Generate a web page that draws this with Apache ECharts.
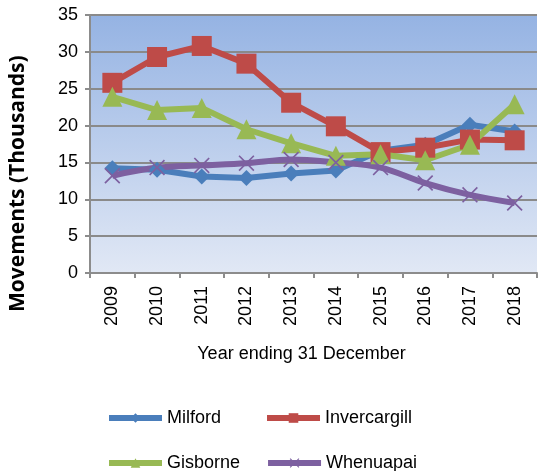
<!DOCTYPE html>
<html><head><meta charset="utf-8">
<script src="https://cdn.jsdelivr.net/npm/echarts@6/dist/echarts.min.js"></script>
<style>html,body{margin:0;padding:0;background:#fff}#c{width:541px;height:471px}</style>
</head><body><div id="c"></div>
<script>
const years = ['2009','2010','2011','2012','2013','2014','2015','2016','2017','2018'];
const yTicks = [0,5,10,15,20,25,30,35];
const milford = [14.2, 14.0, 13.1, 12.9, 13.5, 13.9, 16.6, 17.4, 20.1, 19.2];
const invercargill = [25.8, 29.3, 30.8, 28.4, 23.1, 19.9, 16.4, 17.0, 18.1, 18.0];
const gisborne = [23.9, 22.1, 22.4, 19.5, 17.6, 15.9, 16.1, 15.3, 17.4, 22.9];
const whenuapai = [13.2, 14.3, 14.6, 14.9, 15.4, 15.0, 14.3, 12.2, 10.6, 9.5];

const xPath = 'path://M0,1.5 L1.5,0 L10,8.5 L18.5,0 L20,1.5 L11.5,10 L20,18.5 L18.5,20 L10,11.5 L1.5,20 L0,18.5 L8.5,10 Z';
const font = 'Liberation Sans, Arial, sans-serif';
const chart = echarts.init(document.getElementById('c'));
function ser(name, data, color, symbol, size, smooth){
  return {name, type:'line', data, smooth: smooth||false, symbol, symbolSize:size,
    lineStyle:{color, width:6}, itemStyle:{color}, emphasis:{disabled:true}, z:2};
}
const legendCommon = {left:106, padding:0, itemWidth:53, itemHeight:12,
  lineStyle:{width:6}, textStyle:{fontSize:18, fontFamily:font, color:'#000'}};
chart.setOption({
  animation:false,
  grid:{left:90, right:4, top:15, bottom:198},
  xAxis:{type:'category', data:years, boundaryGap:true,
    axisLine:{lineStyle:{color:'#8c8c8c', width:2}},
    axisTick:{show:true, length:5, lineStyle:{color:'#8c8c8c', width:2}},
    axisLabel:{rotate:90, color:'#000', fontSize:18, fontFamily:font, margin:13},
    name:'Year ending 31 December', nameLocation:'middle', nameGap:72,
    nameTextStyle:{color:'#000', fontSize:18, fontFamily:font, padding:[0,24,0,0]}},
  yAxis:{type:'value', min:0, max:35, interval:5,
    axisLine:{show:true, lineStyle:{color:'#8c8c8c', width:2}},
    axisTick:{show:true, length:5, lineStyle:{color:'#8c8c8c', width:2}},
    splitLine:{lineStyle:{color:'#8a8a8a', width:2}},
    axisLabel:{color:'#000', fontSize:18, fontFamily:font, margin:12,
      formatter: v => yTicks.includes(v) ? String(v) : ''}},
  legend:[
    Object.assign({data:['Milford','Invercargill'], top:409, itemGap:43}, legendCommon),
    Object.assign({data:['Gisborne','Whenuapai'], top:454, itemGap:25}, legendCommon)
  ],
  series:[
    ser('Milford', milford, '#4a7ebb', 'diamond', 16),
    ser('Invercargill', invercargill, '#be4b48', 'rect', 20),
    ser('Gisborne', gisborne, '#98b954', 'triangle', 20),
    ser('Whenuapai', whenuapai, '#7d60a0', xPath, 16, 0.35)
  ]
});
const g = chart.getModel().getComponent('grid').coordinateSystem.getRect();
chart.setOption({graphic:[{type:'text', position:[8,312], rotation:Math.PI/2,
    style:{text:'Movements (Thousands)', font:'bold 21px "Open Sans", sans-serif', fill:'#000'}},
  {type:'rect', shape:{x:g.x, y:g.y, width:g.width, height:g.height}, z:-1, silent:true,
    style:{fill:new echarts.graphic.LinearGradient(0,0,0,1,[{offset:0,color:'#95b3e3'},{offset:1,color:'#e1e8f5'}])}}]});
</script></body></html>
